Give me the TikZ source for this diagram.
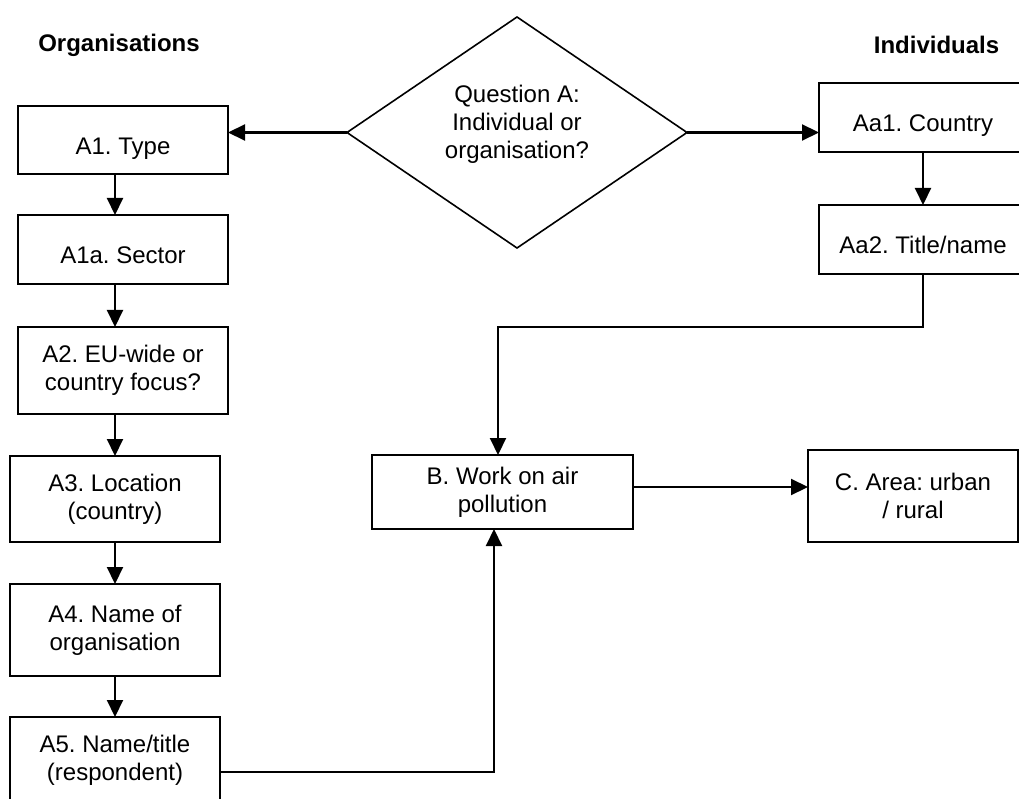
\documentclass[tikz,border=0pt]{standalone}
\usepackage{fontspec}
\setmainfont{Liberation Sans}
\usetikzlibrary{arrows.meta,shapes.geometric,calc}
\frenchspacing
\begin{document}
\begin{tikzpicture}[x=1pt,y=-1pt,
  box/.style={draw,line width=2pt,inner sep=0pt,outer sep=0pt,align=center,font=\fontsize{24}{28}\selectfont},
  one/.style={text height=29pt,text depth=0pt},
  conn/.style={line width=2.1pt,-{Triangle[length=17pt,width=16pt]}},
  head/.style={font=\fontsize{24}{28}\selectfont\bfseries},
  txt/.style={align=center,font=\fontsize{24}{28}\selectfont}]
\useasboundingbox (0,0) rectangle (1019,799);
% headings
\node[head] (orgs) at (119,45) {Organisations};
\node[head] (inds) at (936.5,45) {Individuals};
% decision
\node[diamond,draw,line width=1.6pt,inner sep=0pt,outer sep=0pt,minimum width=340pt,minimum height=231pt] (q) at (517,132.5) {};
\node[txt] (qt) at (517,124) {Question A:\\Individual or\\organisation?};
% organisation column
\node[box,one,minimum width=210pt,minimum height=68pt] (A1) at (123,140) {A1. Type};
\node[box,one,minimum width=210pt,minimum height=69pt] (A1a) at (123,249.5) {A1a. Sector};
\node[box,minimum width=210pt,minimum height=87pt] (A2) at (123,370.5) {A2. EU-wide or\\country focus?};
\node[box,minimum width=210pt,minimum height=86pt] (A3) at (115,499) {A3. Location\\(country)};
\node[box,minimum width=210pt,minimum height=92pt] (A4) at (115,630) {A4. Name of\\organisation};
\node[box,minimum width=210pt,minimum height=86pt] (A5) at (115,760) {A5. Name/title\\(respondent)};
% individuals column
\node[box,one,minimum width=208pt,minimum height=69pt] (Aa1) at (923,117.5) {Aa1. Country};
\node[box,one,minimum width=208pt,minimum height=69pt] (Aa2) at (923,239.5) {Aa2. Title/name};
% common
\node[box,minimum width=261pt,minimum height=74pt] (B) at (502.5,492) {B. Work on air\\pollution};
\node[box,minimum width=210pt,minimum height=92pt] (C) at (913,496) {C. Area: urban\\/ rural};
% connectors
\draw[conn] (q.west) -- (q.west -| A1.east);
\draw[conn] (q.east) -- (q.east -| Aa1.west);
\draw[conn] (A1.south -| A3.north) -- (A1a.north -| A3.north);
\draw[conn] (A1a.south -| A3.north) -- (A2.north -| A3.north);
\draw[conn] (A2.south -| A3.north) -- (A3.north);
\draw[conn] (A3.south) -- (A4.north);
\draw[conn] (A4.south) -- (A5.north);
\draw[conn] (Aa1.south) -- (Aa2.north);
\coordinate (j1) at (498,327);
\draw[conn] (Aa2.south) |- (j1) -- (j1 |- B.north);
\coordinate (j2) at (494,772);
\draw[conn] (A5.east |- j2) -- (j2) -- (j2 |- B.south);
\coordinate (j3) at (633,487);
\draw[conn] (j3 -| B.east) -- (j3 -| C.west);
\end{tikzpicture}
\end{document}
